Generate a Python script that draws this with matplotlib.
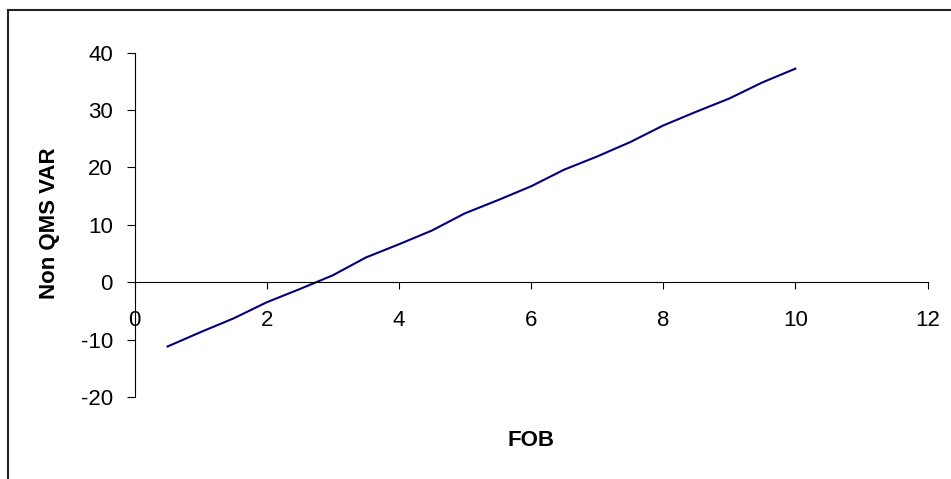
import matplotlib
matplotlib.use("Agg")
import matplotlib.pyplot as plt
from matplotlib.lines import Line2D

fob = [0.5, 1.0, 1.5, 2.0, 2.5, 3.0, 3.5, 4.0, 4.5, 5.0,
       5.5, 6.0, 6.5, 7.0, 7.5, 8.0, 8.5, 9.0, 9.5, 10.0]
non_qms_var = [-11.2, -8.7, -6.3, -3.5, -1.2, 1.2, 4.3, 6.6, 9.0, 12.0,
               14.3, 16.7, 19.6, 21.9, 24.4, 27.3, 29.7, 32.0, 34.8, 37.2]
x_ticks = [0, 2, 4, 6, 8, 10, 12]
y_ticks = [-20, -10, 0, 10, 20, 30, 40]

plt.rcParams['font.family'] = ['Liberation Sans', 'DejaVu Sans']
plt.rcParams['axes.unicode_minus'] = False

fig = plt.figure(figsize=(9.51, 4.79), dpi=100)
ax = fig.add_axes([134.5 / 951, 82 / 479, 793 / 951, 344.4 / 479])

ax.plot(fob, non_qms_var, color='#000080', linewidth=1.5)

ax.set_xlim(0, 12)
ax.set_ylim(-20, 40)
ax.set_xticks(x_ticks)
ax.set_yticks(y_ticks)

ax.spines['top'].set_visible(False)
ax.spines['right'].set_visible(False)
ax.spines['bottom'].set_position(('data', 0))
for s in ('left', 'bottom'):
    ax.spines[s].set_linewidth(0.8)
    ax.spines[s].set_color('black')

ax.tick_params(axis='y', direction='out', length=5.5, width=0.8, labelsize=16, pad=10)
ax.tick_params(axis='x', direction='out', length=5, width=0.8, labelsize=16, pad=15)

# axis titles at fixed figure positions
fig.text(531 / 951, 1 - 441 / 479, 'FOB', fontsize=16, fontweight='bold',
         ha='center', va='center')
fig.text(50 / 951, 1 - 223 / 479, 'Non QMS VAR', fontsize=16, fontweight='bold',
         ha='center', va='center', rotation=90)

# outer chart frame (left and top edges visible)
fig.add_artist(Line2D([8 / 951, 8 / 951], [-0.1, 1 - 10 / 479],
                      transform=fig.transFigure, color='#222222', linewidth=1.5))
fig.add_artist(Line2D([8 / 951, 1.1], [1 - 10 / 479, 1 - 10 / 479],
                      transform=fig.transFigure, color='#222222', linewidth=1.5))

fig.savefig('out.png', dpi=100)
